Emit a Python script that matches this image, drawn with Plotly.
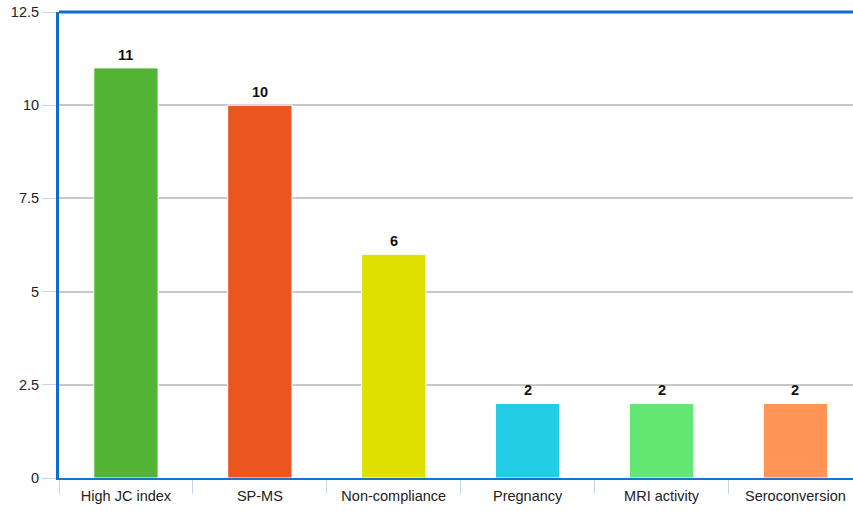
import plotly.graph_objects as go

categories = ["High JC index", "SP-MS", "Non-compliance", "Pregnancy", "MRI activity", "Seroconversion"]
counts = [11, 10, 6, 2, 2, 2]
bar_colors = ["#52b335", "#ea561e", "#dfe000", "#22cde5", "#63e672", "#ff9555"]
y_ticks = [0, 2.5, 5, 7.5, 10, 12.5]
y_tick_text = ["0", "2.5", "5", "7.5", "10", "12.5"]

fig = go.Figure(
    go.Bar(
        x=categories,
        y=counts,
        marker=dict(color=bar_colors, line=dict(color="white", width=1)),
        width=0.48,
        cliponaxis=False,
    )
)

# Value labels above each bar
for cat, val in zip(categories, counts):
    fig.add_annotation(
        x=cat, y=val, text=f"<b>{val}</b>",
        showarrow=False, yanchor="bottom", yshift=3,
        font=dict(family="Liberation Sans, Arial", size=14.5, color="#111111"),
    )

fig.update_layout(
    width=853,
    height=511,
    margin=dict(l=59, r=0, t=12, b=33),
    paper_bgcolor="white",
    plot_bgcolor="white",
    showlegend=False,
    font=dict(family="Liberation Sans, Arial", size=14, color="#222222"),
    bargap=0.52,
)

fig.update_xaxes(
    type="category",
    range=[-0.5, 5.43],
    showgrid=False,
    showline=True,
    linecolor="#1a73c8",
    linewidth=2,
    ticks="outside",
    tickson="boundaries",
    ticklen=14,
    tickcolor="#c5d6e8",
    tickwidth=1,
    ticklabelstandoff=4,
    tickfont=dict(size=14.5, color="#222222"),
)

fig.update_yaxes(
    range=[0, 12.5],
    tickvals=y_ticks,
    ticktext=y_tick_text,
    showgrid=True,
    gridcolor="#c8c8c8",
    gridwidth=1.5,
    zeroline=False,
    showline=True,
    linecolor="#0a6fcc",
    linewidth=3,
    ticks="outside",
    ticklen=14,
    tickcolor="#c5d6e8",
    tickwidth=1,
    tickfont=dict(size=14.5, color="#222222"),
)

# Heavy frame line along the top of the plot area
fig.add_shape(
    type="line", xref="paper", yref="paper",
    x0=0, x1=1, y0=1, y1=1,
    line=dict(color="#0a6fcc", width=3),
)

fig.write_html("out.html")
